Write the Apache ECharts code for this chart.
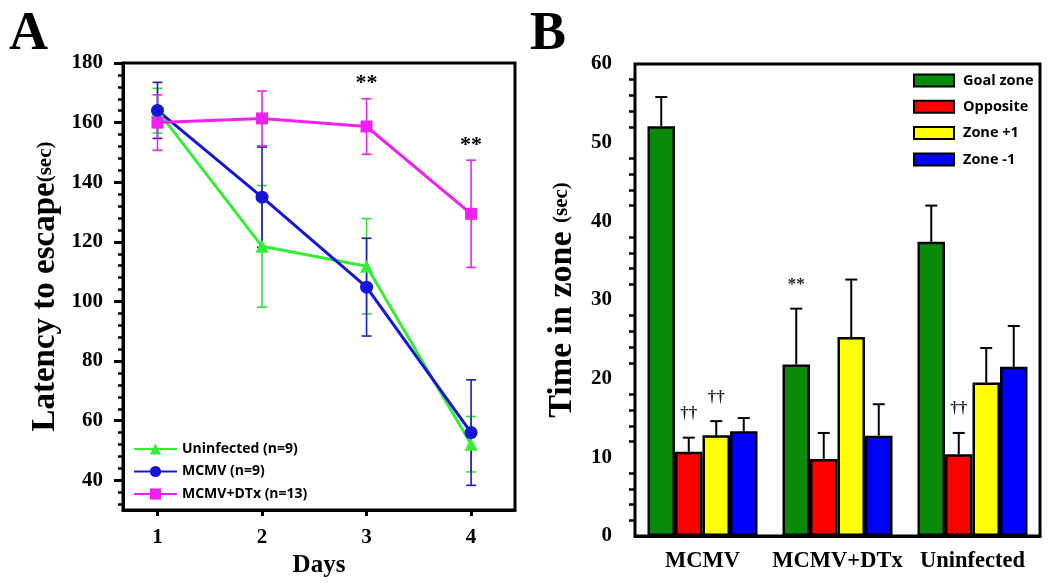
<!DOCTYPE html>
<html>
<head>
<meta charset="utf-8">
<script src="https://cdn.jsdelivr.net/npm/echarts@6/dist/echarts.min.js"></script>
<style>
  html, body { margin: 0; padding: 0; background: #fff; }
  #chart { width: 1050px; height: 583px; }
</style>
</head>
<body>
<div id="chart"></div>
<script>
// Panel A: latency to escape by training day (mean and error)
const days = [1, 2, 3, 4];
const uninfected = [164.0, 118.5, 111.8, 52.1];
const uninfectedErr = [7.5, 20.4, 16.0, 9.3];
const mcmv = [164.1, 135.0, 104.8, 56.0];
const mcmvErr = [9.4, 16.8, 16.4, 17.7];
const mcmvDtx = [160.0, 161.4, 158.7, 129.4];
const mcmvDtxErr = [9.3, 9.2, 9.3, 18.0];
const mcmvDtxMarks = ["", "", "**", "**"];
const latencyTicks = [40, 60, 80, 100, 120, 140, 160, 180];

// Panel B: time spent in each zone
const groups = ["MCMV", "MCMV+DTx", "Uninfected"];
const goalZone = [52.1, 21.8, 37.4];
const goalZoneErr = [3.7, 7.1, 4.6];
const goalZoneMarks = ["", "**", ""];
const opposite = [10.7, 9.8, 10.4];
const oppositeErr = [1.8, 3.3, 2.7];
const oppositeMarks = ["\u2020\u2020", "", "\u2020\u2020"];
const zonePlus = [12.8, 25.3, 19.5];
const zonePlusErr = [1.8, 7.3, 4.4];
const zonePlusMarks = ["\u2020\u2020", "", ""];
const zoneMinus = [13.3, 12.75, 21.5];
const zoneMinusErr = [1.7, 4.0, 5.2];
const zoneMinusMarks = ["", "", ""];

const serif = "'Liberation Serif', 'Times New Roman', serif";
const sans = "'Open Sans', 'Noto Sans', sans-serif";
const barWidth = 27.5;

// small ticks every 4 s between the labelled ones
const latencyMinor = [];
for (let v = 32; v <= 180; v += 4) {
  if (v % 20 !== 0) latencyMinor.push(v);
}

function pairs(xs, ys) {
  return xs.map(function (x, i) { return [x, ys[i]]; });
}

function lineErrorBars(color, marks) {
  return function (params, api) {
    const x = api.value(0);
    const lo = api.coord([x, api.value(1)]);
    const hi = api.coord([x, api.value(2)]);
    const style = { stroke: color, lineWidth: 1.6 };
    const children = [
      { type: "line", shape: { x1: lo[0], y1: lo[1], x2: hi[0], y2: hi[1] }, style: style },
      { type: "line", shape: { x1: hi[0] - 5, y1: hi[1], x2: hi[0] + 5, y2: hi[1] }, style: style },
      { type: "line", shape: { x1: lo[0] - 5, y1: lo[1], x2: lo[0] + 5, y2: lo[1] }, style: style }
    ];
    const mark = marks && marks[params.dataIndex];
    if (mark) {
      children.push({
        type: "text",
        style: {
          text: mark, x: hi[0], y: hi[1] - 15, align: "center", verticalAlign: "middle",
          font: "bold 22px " + serif, fill: "#000"
        }
      });
    }
    return { type: "group", children: children };
  };
}

function barErrorBars(slot, marks) {
  return function (params, api) {
    const base = api.coord([api.value(0), api.value(1)]);
    const top = api.coord([api.value(0), api.value(2)]);
    const x = base[0] + (slot - 1.5) * barWidth;
    const style = { stroke: "#000", lineWidth: 2 };
    const children = [
      { type: "line", shape: { x1: x, y1: base[1], x2: x, y2: top[1] }, style: style },
      { type: "line", shape: { x1: x - 6, y1: top[1], x2: x + 6, y2: top[1] }, style: style }
    ];
    const mark = marks[params.dataIndex];
    if (mark) {
      children.push({
        type: "text",
        style: {
          text: mark, x: x, y: top[1] - 24, align: "center", verticalAlign: "middle",
          font: "bold 17px " + serif, fill: "#222"
        }
      });
    }
    return { type: "group", children: children };
  };
}

function lineSeries(name, values, color, symbol, size) {
  return {
    name: name,
    type: "line",
    xAxisIndex: 0,
    yAxisIndex: 0,
    data: pairs(days, values),
    symbol: symbol,
    symbolSize: size,
    lineStyle: { color: color, width: 3 },
    itemStyle: { color: color },
    z: 3
  };
}

function lineErrSeries(values, errs, color, marks) {
  return {
    type: "custom",
    xAxisIndex: 0,
    yAxisIndex: 0,
    renderItem: lineErrorBars(color, marks),
    data: days.map(function (d, i) { return [d, values[i] - errs[i], values[i] + errs[i]]; }),
    z: 2
  };
}

function barSeries(name, values, color) {
  return {
    name: name,
    type: "bar",
    xAxisIndex: 1,
    yAxisIndex: 2,
    data: values,
    barWidth: barWidth,
    barGap: "0%",
    itemStyle: { color: color, borderColor: "#000", borderWidth: 2.5 },
    z: 2
  };
}

function barErrSeries(values, errs, slot, marks) {
  return {
    type: "custom",
    xAxisIndex: 1,
    yAxisIndex: 2,
    renderItem: barErrorBars(slot, marks),
    data: values.map(function (v, i) { return [i, v, v + errs[i]]; }),
    z: 3
  };
}

const chart = echarts.init(document.getElementById("chart"), null, { renderer: "canvas" });

const option = {
  animation: false,
  backgroundColor: "#fff",
  graphic: [
    { type: "text", left: 9, top: 8, style: { text: "A", font: "bold 54px " + serif, fill: "#000" } },
    { type: "text", left: 530, top: 8, style: { text: "B", font: "bold 54px " + serif, fill: "#000" } }
  ],
  grid: [
    { left: 123, top: 63, width: 392, height: 453, show: true, borderColor: "#000", borderWidth: 3 },
    { left: 635, top: 64, width: 405, height: 472, show: true, borderColor: "#000", borderWidth: 3 }
  ],
  legend: [
    {
      orient: "vertical",
      left: 133,
      top: 442,
      padding: 0,
      itemWidth: 43,
      itemHeight: 14,
      itemGap: 8.5,
      data: ["Uninfected (n=9)", "MCMV (n=9)", "MCMV+DTx (n=13)"],
      textStyle: { fontFamily: sans, fontWeight: "bold", fontSize: 14, color: "#000" }
    },
    {
      orient: "vertical",
      left: 913,
      top: 73,
      padding: 0,
      itemWidth: 40,
      itemHeight: 12,
      itemGap: 11.3,
      icon: "rect",
      data: ["Goal zone", "Opposite", "Zone +1", "Zone -1"],
      itemStyle: { borderColor: "#000", borderWidth: 2 },
      textStyle: { fontFamily: sans, fontWeight: "bold", fontSize: 14.5, color: "#000", padding: [0, 0, 0, 4] }
    }
  ],
  xAxis: [
    {
      type: "value",
      gridIndex: 0,
      min: 0.67,
      max: 4.42,
      name: "Days",
      nameLocation: "middle",
      nameGap: 36,
      nameTextStyle: { fontFamily: serif, fontWeight: "bold", fontSize: 25, color: "#000" },
      axisLine: { lineStyle: { color: "#000", width: 3 } },
      axisTick: { customValues: days, length: 6, lineStyle: { color: "#000", width: 3 } },
      axisLabel: { customValues: days, margin: 17, fontFamily: serif, fontWeight: "bold", fontSize: 21, color: "#000" },
      splitLine: { show: false }
    },
    {
      type: "category",
      gridIndex: 1,
      data: groups,
      axisLine: { lineStyle: { color: "#000", width: 3 } },
      axisTick: { show: false },
      axisLabel: { interval: 0, margin: 14, fontFamily: serif, fontWeight: "bold", fontSize: 22.5, color: "#000" }
    }
  ],
  yAxis: [
    {
      type: "value",
      gridIndex: 0,
      min: 30,
      max: 180,
      name: "{a|Latency to escape}{b|(sec)}",
      nameLocation: "middle",
      nameRotate: 90,
      nameGap: 61,
      nameTextStyle: {
        rich: {
          a: { fontFamily: serif, fontWeight: "bold", fontSize: 33, color: "#000" },
          b: { fontFamily: serif, fontWeight: "bold", fontSize: 21, color: "#000" }
        }
      },
      axisLine: { lineStyle: { color: "#000", width: 3 } },
      axisTick: { customValues: latencyTicks, length: 9, lineStyle: { color: "#000", width: 3 } },
      axisLabel: { customValues: latencyTicks, margin: 20, fontFamily: serif, fontWeight: "bold", fontSize: 21, color: "#000" },
      splitLine: { show: false }
    },
    {
      type: "value",
      gridIndex: 0,
      min: 30,
      max: 180,
      position: "left",
      axisLine: { show: false },
      axisTick: { customValues: latencyMinor, length: 5, lineStyle: { color: "#000", width: 2.5 } },
      axisLabel: { show: false },
      splitLine: { show: false }
    },
    {
      type: "value",
      gridIndex: 1,
      min: 0,
      max: 60,
      interval: 10,
      name: "{a|Time in zone }{b|(sec)}",
      nameLocation: "middle",
      nameRotate: 90,
      nameGap: 56,
      nameTextStyle: {
        rich: {
          a: { fontFamily: serif, fontWeight: "bold", fontSize: 34, color: "#000" },
          b: { fontFamily: serif, fontWeight: "bold", fontSize: 21, color: "#000" }
        }
      },
      axisLine: { lineStyle: { color: "#000", width: 3 } },
      axisTick: { length: 12, lineStyle: { color: "#000", width: 3 } },
      minorTick: { show: true, splitNumber: 5, length: 6, lineStyle: { color: "#000", width: 2.5 } },
      axisLabel: { margin: 23, fontFamily: serif, fontWeight: "bold", fontSize: 21, color: "#000" },
      splitLine: { show: false },
      minorSplitLine: { show: false }
    }
  ],
  series: [
    lineErrSeries(uninfected, uninfectedErr, "#33dd33"),
    lineErrSeries(mcmv, mcmvErr, "#1a1acc"),
    lineErrSeries(mcmvDtx, mcmvDtxErr, "#ee22ee", mcmvDtxMarks),
    lineSeries("Uninfected (n=9)", uninfected, "#33ee33", "triangle", 13),
    lineSeries("MCMV (n=9)", mcmv, "#1515d8", "circle", 13),
    lineSeries("MCMV+DTx (n=13)", mcmvDtx, "#f020f0", "rect", 12),
    barSeries("Goal zone", goalZone, "#0a8a0a"),
    barSeries("Opposite", opposite, "#ff0000"),
    barSeries("Zone +1", zonePlus, "#ffff00"),
    barSeries("Zone -1", zoneMinus, "#0000ff"),
    barErrSeries(goalZone, goalZoneErr, 0, goalZoneMarks),
    barErrSeries(opposite, oppositeErr, 1, oppositeMarks),
    barErrSeries(zonePlus, zonePlusErr, 2, zonePlusMarks),
    barErrSeries(zoneMinus, zoneMinusErr, 3, zoneMinusMarks)
  ]
};

chart.setOption(option);
window.addEventListener("resize", function () {
  chart.resize();
});
</script>
</body>
</html>
